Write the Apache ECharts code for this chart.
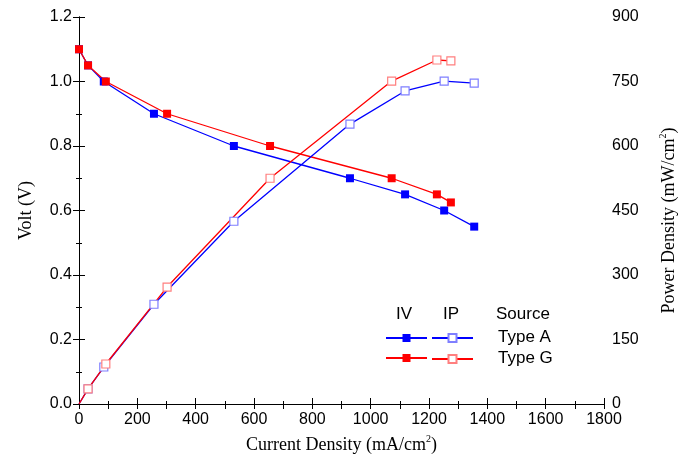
<!DOCTYPE html>
<html><head><meta charset="utf-8">
<script src="https://cdn.jsdelivr.net/npm/echarts@6/dist/echarts.min.js"></script>
<style>html,body{margin:0;padding:0;background:#fff}#c{width:680px;height:464px}</style>
</head><body><div id="c"></div>
<script>
// Data
var currentA = [0, 31, 85, 257, 531, 929, 1118, 1252, 1355];
var voltA    = [1.1, 1.05, 1.0, 0.9, 0.8, 0.7, 0.65, 0.6, 0.55];
var powerA   = [0, 35, 86, 232, 425, 651, 728, 751, 746];
var currentG = [0, 31, 92, 302, 655, 1072, 1227, 1275];
var voltG    = [1.1, 1.05, 1.0, 0.9, 0.8, 0.7, 0.65, 0.625];
var powerG   = [0, 35, 93, 272, 525, 751, 800, 798];
var xTicks = [0, 200, 400, 600, 800, 1000, 1200, 1400, 1600, 1800];
var legendHeaders = ['IV', 'IP', 'Source'];
var sourceNames = ['Type A', 'Type G'];

var SANS = '"Liberation Sans", Arial, sans-serif';
var SERIF = '"Liberation Serif", "Times New Roman", serif';

function pairs(xs, ys, hideZero) {
  return xs.map(function (x, i) {
    var item = { value: [x, ys[i]] };
    if (hideZero && x === 0) item.symbol = 'none';
    return item;
  });
}

var chart = echarts.init(document.getElementById('c'), null, { renderer: 'canvas' });

var axisLine = { show: true, lineStyle: { color: '#000', width: 1 } };
var lbl = { color: '#000', fontFamily: SANS, fontSize: 16 };
var supStyle = { fontFamily: SERIF, fontSize: 10, verticalAlign: 'top', padding: [0, 0, 12, 0], color: '#000' };

var option = {
  animation: false,
  grid: { left: 79, right: 76, top: 17, bottom: 60, outerBoundsMode: 'none', containLabel: false },
  xAxis: [{
    type: 'value', min: xTicks[0], max: xTicks[xTicks.length - 1], interval: 200,
    position: 'bottom',
    axisLine: axisLine,
    axisTick: { inside: true, length: 6, lineStyle: { color: '#000' } },
    minorTick: { show: true, splitNumber: 2, length: 3, lineStyle: { color: '#000' } },
    axisLabel: Object.assign({ margin: 8, formatter: function (v) { return String(v); } }, lbl),
    splitLine: { show: false },
    name: 'Current Density (mA/cm{sup|2})',
    nameLocation: 'middle', nameGap: 30,
    nameTextStyle: { color: '#000', fontFamily: SERIF, fontSize: 18, rich: { sup: supStyle } }
  }, {
    type: 'value', min: xTicks[0], max: xTicks[xTicks.length - 1], interval: 100,
    position: 'top',
    axisLine: axisLine,
    axisTick: { inside: true, length: 5, lineStyle: { color: '#000' } },
    axisLabel: { show: false },
    splitLine: { show: false }
  }],
  yAxis: [{
    type: 'value', min: 0, max: 1.2, interval: 0.2,
    position: 'left',
    axisLine: axisLine,
    axisTick: { inside: true, length: 6, lineStyle: { color: '#000' } },
    minorTick: { show: true, splitNumber: 2, length: 3, lineStyle: { color: '#000' } },
    axisLabel: Object.assign({ margin: 7, formatter: function (v) { return v.toFixed(1); } }, lbl),
    splitLine: { show: false },
    name: 'Volt (V)', nameLocation: 'middle', nameGap: 44, nameRotate: 90,
    nameTextStyle: { color: '#000', fontFamily: SERIF, fontSize: 18 }
  }, {
    type: 'value', min: 0, max: 900, interval: 150,
    position: 'right',
    axisLine: axisLine,
    axisTick: { inside: true, length: 6, lineStyle: { color: '#000' } },
    minorTick: { show: true, splitNumber: 2, length: 3, lineStyle: { color: '#000' } },
    axisLabel: Object.assign({ margin: 8 }, lbl),
    splitLine: { show: false },
    name: 'Power Density (mW/cm{sup|2})', nameLocation: 'middle', nameGap: 54, nameRotate: 90,
    nameTextStyle: { color: '#000', fontFamily: SERIF, fontSize: 18, padding: [0, 20, 0, 0], rich: { sup: supStyle } }
  }],
  legend: [{
    data: ['IV Type A', 'IV Type G'], orient: 'vertical', left: 385, top: 333,
    itemWidth: 41, itemHeight: 10, itemGap: 11, padding: 0, formatter: function () { return ''; },
    selectedMode: false, textStyle: { fontSize: 1 }
  }, {
    data: ['IP Type A', 'IP Type G'], orient: 'vertical', left: 431, top: 333,
    itemWidth: 41, itemHeight: 10, itemGap: 11, padding: 0, formatter: function () { return ''; },
    selectedMode: false, textStyle: { fontSize: 1 }
  }],
  graphic: [
    { type: 'text', left: 396, top: 306, style: { text: legendHeaders[0], font: '17px ' + SANS, fill: '#000' } },
    { type: 'text', left: 443, top: 306, style: { text: legendHeaders[1], font: '17px ' + SANS, fill: '#000' } },
    { type: 'text', left: 496, top: 306, style: { text: legendHeaders[2], font: '17px ' + SANS, fill: '#000' } },
    { type: 'text', left: 498, top: 329, style: { text: sourceNames[0], font: '17px ' + SANS, fill: '#000' } },
    { type: 'text', left: 498, top: 350, style: { text: sourceNames[1], font: '17px ' + SANS, fill: '#000' } }
  ],
  series: [{
    name: 'IV Type A', type: 'line', xAxisIndex: 0, yAxisIndex: 0,
    data: pairs(currentA, voltA, false),
    symbol: 'rect', symbolSize: 8,
    lineStyle: { color: '#0000ff', width: 1.3 },
    itemStyle: { color: '#0000ff' }
  }, {
    name: 'IV Type G', type: 'line', xAxisIndex: 0, yAxisIndex: 0,
    data: pairs(currentG, voltG, false),
    symbol: 'rect', symbolSize: 8,
    lineStyle: { color: '#ff0000', width: 1.3 },
    itemStyle: { color: '#ff0000' }
  }, {
    name: 'IP Type A', type: 'line', xAxisIndex: 0, yAxisIndex: 1,
    data: pairs(currentA, powerA, true),
    symbol: 'rect', symbolSize: 8,
    lineStyle: { color: '#0000ff', width: 1.3 },
    itemStyle: { color: '#ffffff', borderColor: '#7f7fff', borderWidth: 1.2 }
  }, {
    name: 'IP Type G', type: 'line', xAxisIndex: 0, yAxisIndex: 1,
    data: pairs(currentG, powerG, true),
    symbol: 'rect', symbolSize: 8,
    lineStyle: { color: '#ff0000', width: 1.3 },
    itemStyle: { color: '#ffffff', borderColor: '#ff7f7f', borderWidth: 1.2 }
  }]
};
chart.setOption(option);
</script>
</body></html>
